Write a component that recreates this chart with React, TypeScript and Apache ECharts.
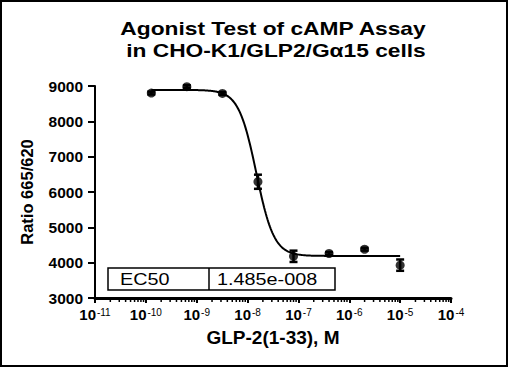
import React, { useEffect, useRef } from 'react';
import * as echarts from 'echarts';

// ---------- data ----------
const TITLE_LINES = ['Agonist Test of cAMP Assay', 'in CHO-K1/GLP2/G\u03B115 cells'];
const X_NAME = 'GLP-2(1-33), M';
const Y_NAME = 'Ratio 665/620';
const CONC = [1.28e-10, 6.4e-10, 3.2e-9, 1.6e-8, 8e-8, 4e-7, 2e-6, 1e-5];
const MEAN = [8800, 8980, 8790, 6290, 4180, 4260, 4380, 3930];
const SD = [40, 40, 40, 200, 160, 40, 40, 160];
const X_TICK_EXP = [-11, -10, -9, -8, -7, -6, -5, -4];
const Y_TICKS = [3000, 4000, 5000, 6000, 7000, 8000, 9000];
const MINOR_MULT = [2, 3, 4, 5, 6, 7, 8, 9];
// fitted 4-parameter logistic (as drawn by the fit)
const FIT_TOP = 8890;
const FIT_BOTTOM = 4190;
const FIT_EC50 = 1.485e-8;
const FIT_HILL = 2.5;
const EC50_LABEL = 'EC50';
const EC50_VALUE = '1.485e-008';

const FONT = '"Liberation Sans", Arial, sans-serif';

export default function App() {
  const ref = useRef<HTMLDivElement>(null);

  useEffect(() => {
    document.body.style.margin = '0';
    if (!ref.current) return;
    const chart = echarts.init(ref.current, null, { renderer: 'svg' });

    const xMin = X_TICK_EXP[0];
    const xMax = X_TICK_EXP[X_TICK_EXP.length - 1];
    const yMin = Y_TICKS[0];
    const yMax = Y_TICKS[Y_TICKS.length - 1];

    const points = CONC.map((c, i) => [Math.log10(c), MEAN[i]]);
    const errs = CONC.map((c, i) => [Math.log10(c), MEAN[i], SD[i]]);

    const lx0 = Math.log10(CONC[0]);
    const lx1 = Math.log10(CONC[CONC.length - 1]);
    const lEC = Math.log10(FIT_EC50);
    const curve: number[][] = [];
    const N = 300;
    for (let i = 0; i <= N; i++) {
      const x = lx0 + ((lx1 - lx0) * i) / N;
      const y = FIT_BOTTOM + (FIT_TOP - FIT_BOTTOM) / (1 + Math.pow(10, (x - lEC) * FIT_HILL));
      curve.push([x, y]);
    }

    const minor: number[][] = [];
    for (let e = xMin; e < xMax; e++) {
      MINOR_MULT.forEach((m) => minor.push([Math.log10(m * Math.pow(10, e)), yMin]));
    }

    chart.setOption({
      animation: false,
      grid: { left: 95, right: 57, top: 86, bottom: 69, containLabel: false },
      xAxis: {
        type: 'value',
        min: xMin,
        max: xMax,
        interval: 1,
        name: X_NAME,
        nameLocation: 'middle',
        nameGap: 30,
        nameTextStyle: { fontFamily: FONT, fontWeight: 'bold', fontSize: 19, color: '#000' },
        axisLine: { lineStyle: { color: '#000', width: 3 } },
        axisTick: { length: 5, lineStyle: { color: '#000', width: 2 } },
        splitLine: { show: false },
        axisLabel: {
          margin: 9,
          formatter: (v: number) => `{b|10}{s|${v}}`,
          rich: {
            b: { fontFamily: FONT, fontWeight: 'bold', fontSize: 15, color: '#000' },
            s: { fontFamily: FONT, fontSize: 10, color: '#000', verticalAlign: 'top', padding: [0, 0, 0, 1] },
          },
        },
      },
      yAxis: {
        type: 'value',
        min: yMin,
        max: yMax,
        interval: 1000,
        name: Y_NAME,
        nameLocation: 'middle',
        nameGap: 60,
        nameTextStyle: { fontFamily: FONT, fontWeight: 'bold', fontSize: 16.5, color: '#000' },
        axisLine: { show: true, lineStyle: { color: '#000', width: 2 } },
        axisTick: { show: true, length: 7, lineStyle: { color: '#000', width: 2 } },
        splitLine: { show: false },
        axisLabel: {
          margin: 12,
          fontFamily: FONT,
          fontWeight: 'bold',
          fontSize: 15.5,
          color: '#000',
          formatter: (v: number) => String(v),
        },
      },
      series: [
        {
          type: 'line',
          data: curve,
          showSymbol: false,
          symbol: 'none',
          lineStyle: { color: '#000', width: 2 },
          z: 2,
        },
        {
          type: 'custom',
          data: errs,
          clip: false,
          encode: { x: 0, y: 1 },
          renderItem: (params: any, api: any) => {
            const x = api.value(0);
            const m = api.value(1);
            const s = api.value(2);
            const t = api.coord([x, m + s]);
            const b = api.coord([x, m - s]);
            const hw = 4;
            const st = { stroke: '#000', lineWidth: 2.5 };
            return {
              type: 'group',
              children: [
                { type: 'line', shape: { x1: t[0], y1: t[1], x2: b[0], y2: b[1] }, style: st },
                { type: 'line', shape: { x1: t[0] - hw, y1: t[1], x2: t[0] + hw, y2: t[1] }, style: st },
                { type: 'line', shape: { x1: b[0] - hw, y1: b[1], x2: b[0] + hw, y2: b[1] }, style: st },
              ],
            };
          },
          z: 3,
        },
        {
          type: 'scatter',
          data: points,
          symbol: 'circle',
          symbolSize: 9,
          itemStyle: { color: '#000' },
          z: 4,
        },
        {
          type: 'custom',
          data: minor,
          clip: false,
          silent: true,
          encode: { x: 0, y: 1 },
          renderItem: (params: any, api: any) => {
            const p = api.coord([api.value(0), api.value(1)]);
            return {
              type: 'line',
              shape: { x1: p[0], y1: p[1], x2: p[0], y2: p[1] + 4 },
              style: { stroke: '#000', lineWidth: 1.5 },
            };
          },
          z: 5,
        },
      ],
      graphic: [
        {
          type: 'rect',
          shape: { x: 1, y: 1, width: 506, height: 365 },
          style: { fill: 'none', stroke: '#000', lineWidth: 2 },
          silent: true,
        },
        {
          type: 'text',
          x: 273,
          y: 28.5,
          scaleX: 1.23,
          style: {
            text: TITLE_LINES[0],
            fontFamily: FONT,
            fontWeight: 'bold',
            fontSize: 18.5,
            fill: '#000',
            align: 'center',
            verticalAlign: 'middle',
          },
        },
        {
          type: 'text',
          x: 276,
          y: 50.5,
          scaleX: 1.23,
          style: {
            text: TITLE_LINES[1],
            fontFamily: FONT,
            fontWeight: 'bold',
            fontSize: 18.5,
            fill: '#000',
            align: 'center',
            verticalAlign: 'middle',
          },
        },
        {
          type: 'rect',
          shape: { x: 108, y: 268, width: 227, height: 22 },
          style: { fill: '#fff', stroke: '#000', lineWidth: 1.5 },
          z: 10,
        },
        {
          type: 'line',
          shape: { x1: 209, y1: 268, x2: 209, y2: 290 },
          style: { stroke: '#000', lineWidth: 1.5 },
          z: 11,
        },
        {
          type: 'text',
          x: 120,
          y: 279.5,
          scaleX: 1.2,
          style: {
            text: EC50_LABEL,
            fontFamily: FONT,
            fontSize: 16.5,
            fill: '#000',
            align: 'left',
            verticalAlign: 'middle',
          },
          z: 11,
        },
        {
          type: 'text',
          x: 217,
          y: 279.5,
          scaleX: 1.2,
          style: {
            text: EC50_VALUE,
            fontFamily: FONT,
            fontSize: 16.5,
            fill: '#000',
            align: 'left',
            verticalAlign: 'middle',
          },
          z: 11,
        },
      ],
    });

    return () => chart.dispose();
  }, []);

  return <div ref={ref} style={{ width: 508, height: 367 }} />;
}
